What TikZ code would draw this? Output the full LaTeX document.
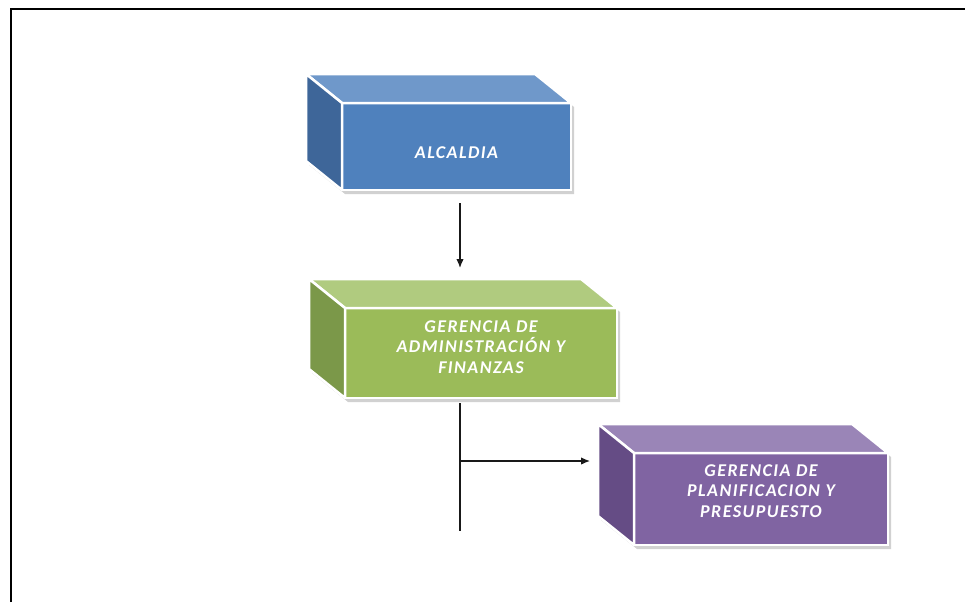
\documentclass[tikz,border=0pt]{standalone}
\usepackage{fontspec}
\setmainfont{Carlito}
\usetikzlibrary{arrows.meta}
\definecolor{bluef}{HTML}{4F81BD}
\definecolor{bluet}{HTML}{6F98CA}
\definecolor{bluel}{HTML}{3E6699}
\definecolor{greenf}{HTML}{9BBB59}
\definecolor{greent}{HTML}{B0CB7F}
\definecolor{greenl}{HTML}{7B9849}
\definecolor{purf}{HTML}{8064A2}
\definecolor{purt}{HTML}{9A85B7}
\definecolor{purl}{HTML}{654C85}
\tikzset{
 face/.style={draw=white, line width=2.5pt, inner sep=0pt, outer sep=0pt, anchor=north west},
 boxtext/.style={font=\fontsize{18}{20.5}\selectfont\bfseries\itshape\addfontfeature{LetterSpace=8}, text=white, align=center, inner sep=0pt},
 side/.style={draw=white, line width=2.5pt, line join=round},
 shadowfill/.style={fill=black!18},
 conn/.style={line width=1.3pt, black!90},
 tip/.style={-{Latex[length=9pt,width=7.5pt]}}
}
% #1 name, #2 x, #3 y, #4 w, #5 h, #6 front, #7 top, #8 left
\newcommand\mycube[8]{%
  \fill[shadowfill] (#2-36+3,#3-29+4) -- (#2+#4-36+3,#3-29+4) -- (#2+#4+3,#3+4) -- (#2+#4+3,#3+#5+4)
      -- (#2+3,#3+#5+4) -- (#2-36+3,#3+#5-29+4) -- cycle;
  \node[face, fill=#6, minimum width=#4pt, minimum height=#5pt] (#1) at (#2,#3) {};
  \filldraw[side, fill=#7] (#1.north west) -- ++(-36,-29) -- ++(#4,0) -- (#1.north east) -- cycle;
  \filldraw[side, fill=#8] (#1.north west) -- ++(-36,-29) -- ++(0,#5) -- (#1.south west) -- cycle;
}
\begin{document}
\begin{tikzpicture}[x=1pt,y=-1pt]
\useasboundingbox (0,0) rectangle (965,602);
\fill[white] (0,0) rectangle (965,602);
\draw[line width=2pt] (11,602) -- (11,9) -- (965,9);

\mycube{alc}{342}{103}{229}{87}{bluef}{bluet}{bluel}
\mycube{gaf}{345}{308}{272}{90}{greenf}{greent}{greenl}
\mycube{ppp}{634}{453}{254}{92}{purf}{purt}{purl}

\node[boxtext] (alct) at ([yshift=-6.5pt]alc.center) {ALCALDIA};
\node[boxtext] (gaft) at ([yshift=6pt]gaf.center) {GERENCIA DE\\ADMINISTRACIÓN Y\\FINANZAS};
\node[boxtext] (pppt) at ([yshift=8pt]ppp.center) {GERENCIA DE\\PLANIFICACION Y\\PRESUPUESTO};

\coordinate (j) at (460,461);
\coordinate (endp) at (460,531);
\draw[conn,tip] ([xshift=3.5pt,yshift=-13pt]alc.south) -- ([xshift=-21pt,yshift=40pt]gaf.north);
\draw[conn] ([xshift=-21pt,yshift=-5pt]gaf.south) -- (endp);
\draw[conn,tip] (j) -- ([xshift=-44pt,yshift=38pt]ppp.west);
\end{tikzpicture}
\end{document}
